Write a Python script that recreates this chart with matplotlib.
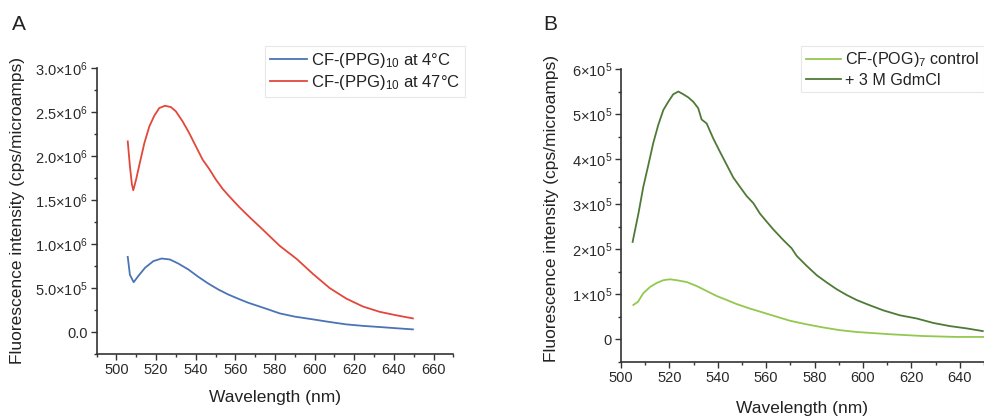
import matplotlib
matplotlib.use("Agg")
import matplotlib.pyplot as plt
import numpy as np

plt.rcParams['font.family'] = ['Liberation Sans', 'DejaVu Sans']
plt.rcParams['mathtext.fontset'] = 'custom'
plt.rcParams['mathtext.rm'] = 'Liberation Sans'
plt.rcParams['mathtext.it'] = 'Liberation Sans:italic'

# ---- panel A data: CF-(PPG)10, wavelength (nm) / intensity (x1e6) ----
wl_a_cold = [505.7, 506.8, 508.7, 511.0, 514.4, 518.6, 522.8, 527.0, 531.2, 536.3,
             541.3, 546.3, 551.4, 556.4, 561.5, 566.5, 571.6, 576.6, 582.4, 590.0,
             599.2, 607.6, 616.0, 624.4, 632.8, 641.3, 649.6]
int_a_cold = [0.855, 0.65, 0.567, 0.636, 0.730, 0.806, 0.836, 0.825, 0.779, 0.711,
              0.628, 0.552, 0.484, 0.427, 0.378, 0.333, 0.295, 0.257, 0.212, 0.175,
              0.144, 0.114, 0.087, 0.070, 0.057, 0.043, 0.030]

wl_a_hot = [505.7, 506.8, 507.8, 508.5, 509.9, 511.6, 514.1, 516.6, 519.1, 521.6,
            524.5, 527.5, 530.0, 533.4, 536.7, 540.1, 543.5, 546.8, 550.2, 553.6,
            556.9, 561.9, 567.0, 572.9, 582.4, 590.9, 599.2, 607.6, 616.0, 624.4,
            632.8, 641.3, 649.6]
int_a_hot = [2.168, 1.884, 1.68, 1.612, 1.733, 1.904, 2.150, 2.338, 2.460, 2.547,
             2.573, 2.558, 2.509, 2.395, 2.263, 2.111, 1.960, 1.855, 1.733, 1.628,
             1.544, 1.423, 1.310, 1.185, 0.980, 0.832, 0.660, 0.500, 0.380, 0.290,
             0.230, 0.190, 0.155]

# ---- panel B data: CF-(POG)7, wavelength (nm) / intensity (x1e5) ----
wl_b_ctrl = [505.1, 507.0, 509.2, 512.0, 514.8, 517.5, 520.2, 523.0, 527.1, 531.3,
             535.4, 539.5, 543.7, 547.8, 553.3, 558.8, 564.3, 569.8, 576.7, 583.6,
             590.5, 597.4, 611.2, 624.9, 638.7, 649.7]
int_b_ctrl = [0.76, 0.83, 1.02, 1.16, 1.25, 1.31, 1.33, 1.31, 1.27, 1.18,
              1.07, 0.96, 0.87, 0.78, 0.68, 0.59, 0.50, 0.41, 0.33, 0.26,
              0.20, 0.16, 0.11, 0.07, 0.05, 0.05]

wl_b_gdm = [504.8, 507.2, 509.2, 511.3, 513.3, 515.4, 517.5, 519.5, 521.6, 523.7,
            525.7, 527.8, 529.9, 531.9, 533.3, 535.4, 538.1, 540.9, 543.7, 546.4,
            549.2, 551.9, 554.7, 557.4, 560.2, 562.9, 567.1, 570.5, 572.6, 576.7,
            580.9, 585.0, 589.1, 593.3, 597.4, 602.0, 608.4, 615.3, 622.2, 629.1,
            636.0, 642.8, 649.5]
int_b_gdm = [2.16, 2.79, 3.38, 3.87, 4.35, 4.76, 5.09, 5.27, 5.44, 5.50,
             5.44, 5.37, 5.27, 5.13, 4.88, 4.79, 4.46, 4.16, 3.87, 3.59,
             3.38, 3.18, 3.02, 2.79, 2.61, 2.44, 2.20, 2.02, 1.85, 1.63,
             1.42, 1.26, 1.11, 0.98, 0.87, 0.77, 0.64, 0.53, 0.46, 0.36,
             0.29, 0.24, 0.18]

# tick labels
yticks_a = [0, 0.5e6, 1.0e6, 1.5e6, 2.0e6, 2.5e6, 3.0e6]
ylabels_a = ['0.0', r'5.0$\times$10$^{5}$', r'1.0$\times$10$^{6}$', r'1.5$\times$10$^{6}$',
             r'2.0$\times$10$^{6}$', r'2.5$\times$10$^{6}$', r'3.0$\times$10$^{6}$']
xticks_a = [500, 520, 540, 560, 580, 600, 620, 640, 660]

yticks_b = [0, 1e5, 2e5, 3e5, 4e5, 5e5, 6e5]
ylabels_b = ['0'] + [r'%d$\times$10$^{5}$' % i for i in range(1, 7)]
xticks_b = [500, 520, 540, 560, 580, 600, 620, 640]

c_blue = '#4a74b4'
c_red = '#e3473a'
c_light = '#93c84f'
c_dark = '#4f7a36'
axis_col = '#333333'

fig = plt.figure(figsize=(9.84, 4.16), dpi=100)
ax_a = fig.add_axes([0.0982, 0.149, 0.3625, 0.687])
ax_b = fig.add_axes([0.6311, 0.1305, 0.3689, 0.7036])


def style_axes(ax):
    for s in ['top', 'right']:
        ax.spines[s].set_visible(False)
    for s in ['left', 'bottom']:
        ax.spines[s].set_linewidth(1.2)
        ax.spines[s].set_color(axis_col)
    ax.tick_params(which='major', direction='out', length=4.5, width=1.0,
                   color=axis_col, labelsize=10.5, pad=2, labelcolor='#2a2a2a')
    ax.tick_params(which='minor', direction='out', length=2.5, width=1.0, color=axis_col)


ax_a.plot(wl_a_cold, np.array(int_a_cold) * 1e6, color=c_blue, lw=1.3,
          label=r'CF-(PPG)$_{10}$ at 4°C')
ax_a.plot(wl_a_hot, np.array(int_a_hot) * 1e6, color=c_red, lw=1.3,
          label=r'CF-(PPG)$_{10}$ at 47°C')
ax_a.set_xlim(490, 670)
ax_a.set_ylim(-0.25e6, 3.0e6)
ax_a.set_xticks(xticks_a)
ax_a.set_xticks(np.arange(490, 671, 10), minor=True)
ax_a.set_yticks(yticks_a, ylabels_a)
ax_a.set_yticks(np.arange(-0.25e6, 3.01e6, 0.25e6), minor=True)
style_axes(ax_a)

ax_b.plot(wl_b_ctrl, np.array(int_b_ctrl) * 1e5, color=c_light, lw=1.3,
          label=r'CF-(POG)$_{7}$ control')
ax_b.plot(wl_b_gdm, np.array(int_b_gdm) * 1e5, color=c_dark, lw=1.3,
          label='+ 3 M GdmCl')
ax_b.set_xlim(500, 650)
ax_b.set_ylim(-0.5e5, 6e5)
ax_b.set_xticks(xticks_b)
ax_b.set_xticks(np.arange(500, 651, 10), minor=True)
ax_b.set_yticks(yticks_b, ylabels_b)
ax_b.set_yticks(np.arange(-0.5e5, 6.01e5, 0.5e5), minor=True)
style_axes(ax_b)

# legends (anchored in figure coords, extend outside the axes like the original)
for ax, x0, fs in [(ax_a, 265 / 984, 12), (ax_b, 801 / 984, 11.6)]:
    leg = ax.legend(loc='upper left', bbox_to_anchor=(x0, 1 - 45.5 / 416),
                    bbox_transform=fig.transFigure, fontsize=fs, frameon=True,
                    fancybox=False, borderaxespad=0, borderpad=0.3,
                    handlelength=2.2, handletextpad=0.25, labelspacing=0.2)
    leg.get_frame().set_edgecolor('#e2e2e2')
    leg.get_frame().set_linewidth(0.8)
    for t in leg.get_texts():
        t.set_color('#222222')

# axis titles
fig.text(18 / 984, 0.495, 'Fluorescence intensity (cps/microamps)', rotation=90,
         ha='center', va='center', fontsize=12.5, color='#222222')
fig.text(551.7 / 984, 0.5, 'Fluorescence intensity (cps/microamps)', rotation=90,
         ha='center', va='center', fontsize=12.5, color='#222222')
fig.text(275 / 984, 1 - 402 / 416, 'Wavelength (nm)', ha='center', va='baseline',
         fontsize=12.5, color='#222222')
fig.text(802.5 / 984, 1 - 413 / 416, 'Wavelength (nm)', ha='center', va='baseline',
         fontsize=12.5, color='#222222')

# panel letters
fig.text(12 / 984, 1 - 30 / 416, 'A', fontsize=15, color='#222222', va='baseline')
fig.text(543 / 984, 1 - 30 / 416, 'B', fontsize=15, color='#222222', va='baseline')

fig.savefig('out.png', dpi=100)
